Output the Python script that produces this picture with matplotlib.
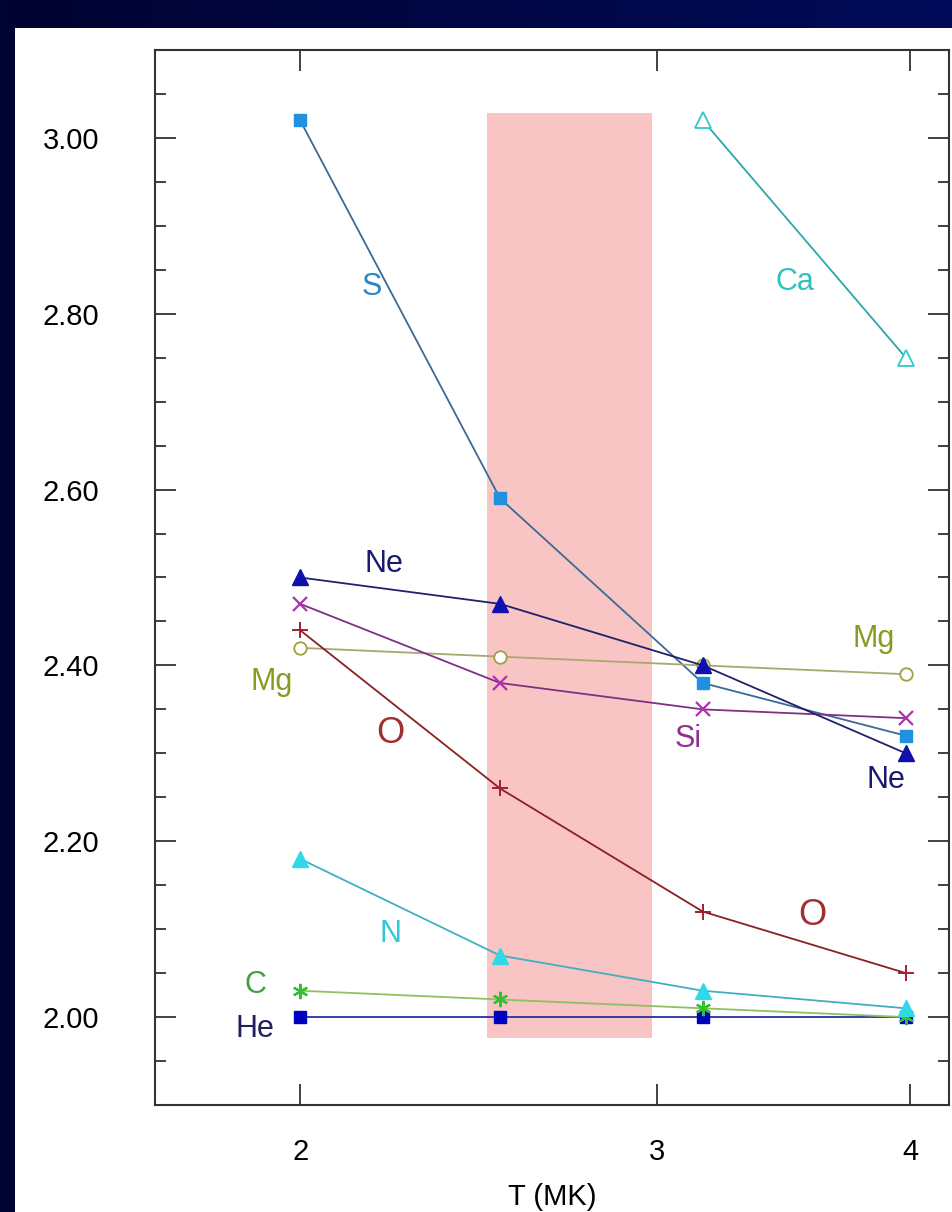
"""Element abundance ratio vs temperature, rebuilt with matplotlib"""
import numpy as np
import matplotlib
matplotlib.use("Agg")
import matplotlib.pyplot as plt
from matplotlib.patches import Rectangle
from matplotlib.colors import LinearSegmentedColormap
from matplotlib.ticker import FixedLocator, NullLocator, MultipleLocator, FormatStrFormatter

plt.rcParams["font.family"] = ["Liberation Sans", "DejaVu Sans"]

# ============ data ============
T_MK = [2.0, 2.51, 3.16, 3.98]
T_CA = [3.16, 3.98]

S = [3.02, 2.59, 2.38, 2.32]
Ca = [3.02, 2.75]
Ne = [2.50, 2.47, 2.40, 2.30]
Si = [2.47, 2.38, 2.35, 2.34]
Mg = [2.42, 2.41, 2.40, 2.39]
O = [2.44, 2.26, 2.12, 2.05]
N = [2.18, 2.07, 2.03, 2.01]
C = [2.03, 2.02, 2.01, 2.00]
He = [2.00, 2.00, 2.00, 2.00]

# shaded temperature band
BAND_T = (2.474, 2.984)
BAND_Y = (1.976, 3.028)

X_TICKS = [2, 3, 4]

W, H = 953, 1212
fig = plt.figure(figsize=(W / 100, H / 100), dpi=100)

# ============ slide background ============
bg = fig.add_axes([0, 0, 1, 1], zorder=-10)
navy = LinearSegmentedColormap.from_list("navy", ["#010330", "#000a58"])
bg.imshow(np.linspace(0, 1, 256)[None, :], cmap=navy, aspect="auto", extent=[0, 1, 0, 1])
bg.set_xlim(0, 1)
bg.set_ylim(0, 1)
bg.axis("off")
bg.add_patch(Rectangle((15 / W, 0), 1, (H - 28) / H, facecolor="white", edgecolor="none"))

# ============ main plot ============
ax = fig.add_axes([155 / W, (H - 1105) / H, (949 - 155) / W, (1105 - 50) / H])
ax.set_facecolor("none")

ax.axvspan(BAND_T[0], BAND_T[1], ymin=(BAND_Y[0] - 1.90) / 1.20, ymax=(BAND_Y[1] - 1.90) / 1.20,
           facecolor="#f9c4c4", edgecolor="none", zorder=0)

lw = 1.3
ax.plot(T_MK, S, "-s", color="#3b6a96", lw=lw, ms=9, mfc="#2090e0", mec="#2090e0", zorder=3)
ax.plot(T_CA, Ca, "-^", color="#2aa8a8", lw=lw, ms=11, mfc="white", mec="#30c8c8", mew=1.3, zorder=3)
ax.plot(T_MK, Mg, "-o", color="#a8a870", lw=lw, ms=9, mfc="white", mec="#a0a040", mew=1.3, zorder=3)
ax.plot(T_MK, Si, "-x", color="#803080", lw=lw, ms=10, mec="#b030b0", mew=1.6, zorder=3)
ax.plot(T_MK, O, "-+", color="#8a2020", lw=lw, ms=12, mec="#a02030", mew=1.4, zorder=3)
ax.plot(T_MK, He, "-s", color="#2830a0", lw=lw, ms=9, mfc="#0000c0", mec="#0000c0", zorder=3)
ax.plot(T_MK, C, "-", color="#90c060", lw=lw, zorder=3)
ax.plot(T_MK, C, linestyle="none", marker=(6, 2, 0), ms=11, mec="#30c030", mew=1.6, zorder=3)
ax.plot(T_MK, N, "-^", color="#40b0c0", lw=lw, ms=11, mfc="#30d8e8", mec="#30d8e8", zorder=4)
ax.plot(T_MK, Ne, "-^", color="#202070", lw=lw, ms=11, mfc="#1010b0", mec="#1010b0", zorder=4)

# element labels
labels = [
    ("S", 2.17, 2.83, "#2a88c0", 22),
    ("Ca", 3.51, 2.836, "#30c0c0", 22),
    ("Ne", 2.20, 2.515, "#1a1a70", 22),
    ("Mg", 1.937, 2.381, "#8a9a20", 22),
    ("O", 2.215, 2.322, "#a03030", 26),
    ("Mg", 3.835, 2.430, "#8a9a20", 22),
    ("Si", 3.108, 2.316, "#903090", 22),
    ("Ne", 3.889, 2.270, "#1a1a70", 22),
    ("N", 2.215, 2.094, "#30c8d8", 22),
    ("O", 3.58, 2.116, "#a03030", 26),
    ("C", 1.900, 2.036, "#40a040", 22),
    ("He", 1.900, 1.987, "#202060", 22),
]
for txt, x, y, col, fs in labels:
    ax.text(x, y, txt, color=col, fontsize=fs, ha="center", va="center", zorder=5)

# axes, ticks
ax.set_xscale("log")
ax.set_xlim(1.696, 4.18)
ax.set_ylim(1.90, 3.10)
ax.xaxis.set_major_locator(FixedLocator(X_TICKS))
ax.xaxis.set_minor_locator(NullLocator())
ax.set_xticklabels([str(t) for t in X_TICKS])
ax.yaxis.set_major_locator(MultipleLocator(0.2))
ax.yaxis.set_minor_locator(MultipleLocator(0.05))
ax.yaxis.set_major_formatter(FormatStrFormatter("%.2f"))

ax.tick_params(which="both", direction="in", top=True, right=True, color="#333333", width=1.3)
ax.tick_params(which="major", length=15, labelsize=21)
ax.tick_params(which="minor", length=8)
ax.tick_params(axis="y", which="major", pad=40)
ax.tick_params(axis="x", which="major", pad=24)
for sp in ax.spines.values():
    sp.set_color("#333333")
    sp.set_linewidth(1.5)

ax.set_xlabel("T (MK)", fontsize=21, labelpad=12)

fig.savefig("out.png", dpi=100)
